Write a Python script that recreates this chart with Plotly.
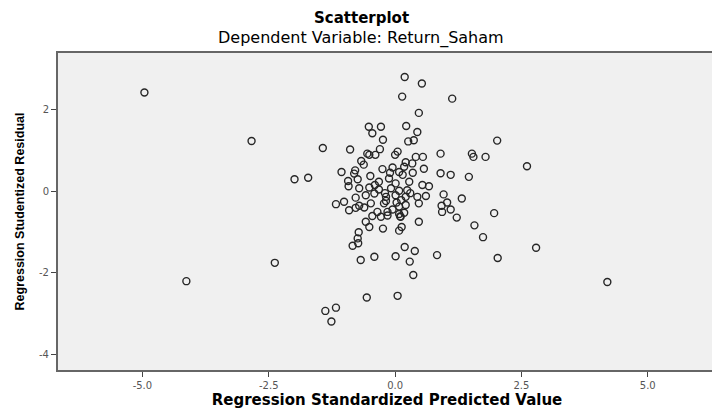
import plotly.graph_objects as go

# Regression standardized predicted value (x) and studentized residual (y)
pred = [
    -4.96, -2.84, -4.13, -2.38, 4.20, 2.79, 2.61, 2.02, 1.13, 1.52, 1.55, 1.79,
    0.90, 0.90, 1.10, 1.46, 0.96, 1.32, 1.03, 0.92, 0.93, 1.10, 1.22, 1.96,
    1.57, 1.74, 2.03, 0.83,
    0.19, 0.53, 0.14, 0.47, -0.52, -0.28, -0.45, 0.22, 0.44, -0.24, 0.26, 0.37,
    -1.43, -0.89, -0.30, 0.05, -0.55, -0.51, -0.39, 0.00, 0.41, 0.55, -0.67, 0.21,
    0.34, -1.06, -0.79, -0.25, -0.05, 0.08, 0.57, -1.99, -1.72, -0.81, -0.93, -0.74,
    -0.49, -0.32, -0.12, 0.01, 0.28, 0.54, -0.92, -0.71, -0.51, -0.32, -0.08, 0.08,
    0.24, 0.67, -0.78, -0.58, -0.41, -0.18, 0.01, 0.21, 0.44, 0.61, -1.17, -1.01,
    -0.71, -0.48, -0.22, 0.08, 0.47,
    -0.91, -0.78, -0.61, -0.18, 0.03, 0.21, -0.35, -0.15, -0.45, -0.28, 0.08, 0.18,
    0.11, -0.58, -0.51, -0.24, 0.08, 0.13, 0.47, -0.72, -0.74, -0.73, -0.84, -0.68,
    -0.41, 0.01, 0.19, 0.39, 0.29, 0.36, -0.56, 0.05, -1.17, -1.38, -1.26,
    -0.10, 0.15, -0.20, 0.12, -0.05, 0.30, -0.40, 0.35, 0.10, -0.15, 0.18, -0.62,
]
resid = [
    2.42, 1.23, -2.21, -1.76, -2.23, -1.39, 0.61, 1.24, 2.27, 0.92, 0.84, 0.84,
    0.92, 0.44, 0.40, 0.35, -0.08, -0.18, -0.28, -0.36, -0.51, -0.45, -0.65, -0.54,
    -0.84, -1.13, -1.64, -1.57,
    2.80, 2.64, 2.32, 1.92, 1.58, 1.58, 1.42, 1.60, 1.45, 1.26, 1.22, 1.25,
    1.06, 1.02, 1.03, 0.97, 0.92, 0.89, 0.89, 0.89, 0.84, 0.84, 0.74, 0.71,
    0.68, 0.47, 0.51, 0.54, 0.58, 0.47, 0.55, 0.29, 0.33, 0.43, 0.25, 0.29,
    0.37, 0.23, 0.31, 0.19, 0.23, 0.15, 0.12, 0.07, 0.09, 0.04, 0.07, 0.01,
    0.02, 0.12, -0.16, -0.10, -0.06, -0.14, -0.10, -0.14, -0.14, -0.12, -0.32, -0.26,
    -0.36, -0.30, -0.30, -0.38, -0.30,
    -0.47, -0.41, -0.40, -0.24, -0.28, -0.34, -0.51, -0.51, -0.61, -0.63, -0.56, -0.53,
    -0.63, -0.75, -0.88, -0.92, -0.97, -0.88, -0.75, -1.01, -1.16, -1.28, -1.34, -1.69,
    -1.61, -1.60, -1.37, -1.47, -1.73, -2.06, -2.61, -2.57, -2.86, -2.94, -3.20,
    0.45, 0.40, -0.05, -0.22, -0.45, -0.05, 0.15, 0.45, -0.62, -0.60, 0.60, 0.65,
]

x_ticks = [-5.0, -2.5, 0.0, 2.5, 5.0]
y_ticks = [-4, -2, 0, 2]

# the page body has an 8px margin, so the figure is sized to fit the window
W, H = 712, 401
top, bottom, left, right = 45, 39, 50, 2
ph = H - top - bottom
pw = W - left - right
title_cx = (354 - left) / pw  # titles centred on the whole image

fig = go.Figure(go.Scatter(
    x=pred, y=resid, mode="markers",
    marker=dict(symbol="circle-open", size=7, color="#262626", line=dict(width=1.4)),
    hoverinfo="skip",
))

fig.update_layout(
    width=W, height=H,
    margin=dict(l=left, r=right, t=top, b=bottom),
    paper_bgcolor="white", plot_bgcolor="#f0f0f0",
    showlegend=False,
    font=dict(family="Liberation Sans, Arial", color="#000"),
    annotations=[
        dict(text="<b>Scatterplot</b>", x=title_cx, y=1 + (top - 10) / ph,
             xref="paper", yref="paper", showarrow=False,
             font=dict(size=15, family="DejaVu Sans"), xanchor="center", yanchor="middle"),
        dict(text="Dependent Variable: Return_Saham", x=title_cx, y=1 + (top - 30) / ph,
             xref="paper", yref="paper", showarrow=False,
             font=dict(size=16, family="DejaVu Sans"), xanchor="center", yanchor="middle"),
    ],
)

fig.update_xaxes(
    range=[-6.67, 6.35], tickvals=x_ticks, ticktext=[f"{v:.1f}" for v in x_ticks],
    ticks="outside", ticklen=5, tickcolor="#444", tickwidth=1,
    tickfont=dict(size=10, color="#555", family="DejaVu Sans"),
    showgrid=False, zeroline=False,
    showline=True, linecolor="#666", linewidth=2, mirror=True,
    title=dict(text="<b>Regression Standardized Predicted Value</b>",
               font=dict(size=15, family="DejaVu Sans"), standoff=2),
)
fig.update_yaxes(
    range=[-4.39, 3.39], tickvals=y_ticks, ticktext=[str(v) for v in y_ticks],
    ticks="outside", ticklen=5, tickcolor="#444", tickwidth=1,
    tickfont=dict(size=10, color="#555", family="DejaVu Sans"),
    showgrid=False, zeroline=False,
    showline=True, linecolor="#666", linewidth=2, mirror=True,
    title=dict(text="<b>Regression Studentized Residual</b>",
               font=dict(size=12.5, family="Liberation Sans"), standoff=12),
)

fig.write_html("out.html")
